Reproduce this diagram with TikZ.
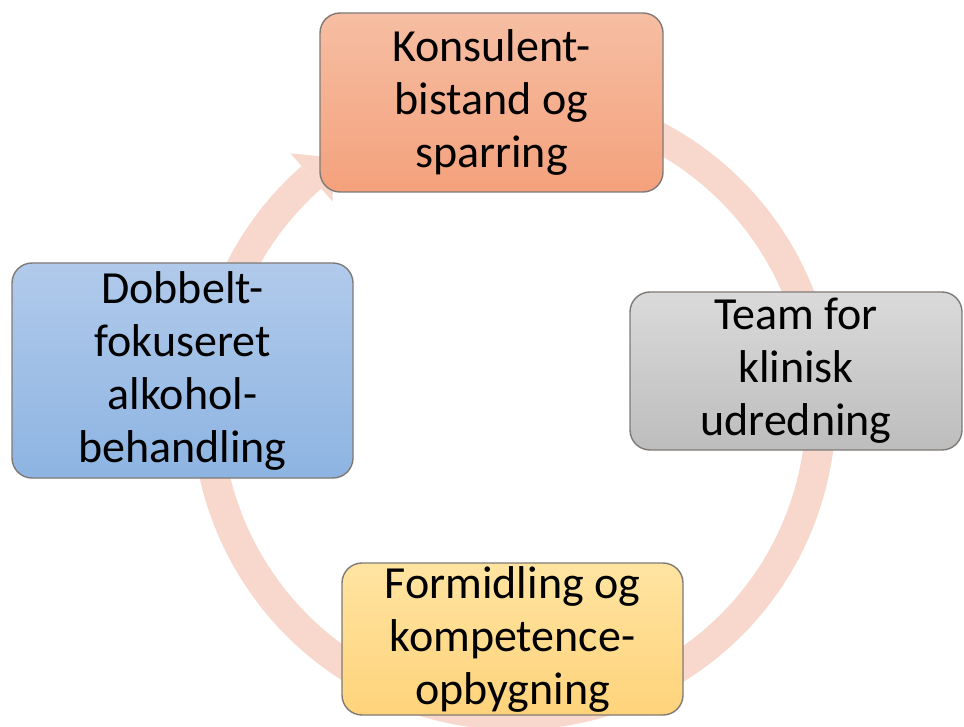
\documentclass[tikz,border=0pt]{standalone}
\usepackage{fontspec}
\setmainfont{Carlito}
\usetikzlibrary{calc}
\definecolor{arrowc}{HTML}{F8D8CC}
\definecolor{edgec}{HTML}{7F7A76}
\definecolor{orT}{HTML}{F6BEA3}
\definecolor{orB}{HTML}{F4A17C}
\definecolor{grT}{HTML}{DADADA}
\definecolor{grB}{HTML}{BDBDBD}
\definecolor{blT}{HTML}{B1CAEB}
\definecolor{blB}{HTML}{8DB4E2}
\definecolor{yeT}{HTML}{FFE4A1}
\definecolor{yeB}{HTML}{FFD37B}
\tikzset{
  box/.style={draw=edgec, line width=1.4pt, rounded corners=20pt, inner sep=0pt,
    align=center, font=\fontsize{46}{53}\selectfont},
  band/.style={line width=30pt, draw=arrowc}
}
\begin{document}
\begin{tikzpicture}[x=1pt, y=-1pt]
\useasboundingbox (0,0) rectangle (964,727);
\coordinate (c) at (514,408);
% circular arrow
\draw[band] (c) ++(-75:307) arc[start angle=-75, end angle=228.7, radius=307];
\fill[arrowc] ($(c)+(228.7:339)$) -- ($(c)+(228.7:307)+(-41.3:30)$) -- ($(c)+(228.7:275)$) -- cycle;
% boxes
\node[box, top color=orT, bottom color=orB, minimum width=343pt, minimum height=179pt]
  (konsulent) at (491.5,102.5) {Konsulent-\\bistand og\\sparring};
\node[box, top color=grT, bottom color=grB, minimum width=332pt, minimum height=158pt]
  (team) at (796,371) {Team for\\klinisk\\udredning};
\node[box, top color=yeT, bottom color=yeB, minimum width=341pt, minimum height=152pt]
  (formidling) at (512.5,639) {Formidling og\\kompetence-\\opbygning};
\node[box, top color=blT, bottom color=blB, minimum width=341pt, minimum height=215pt]
  (dobbelt) at (182.5,370.5) {Dobbelt-\\fokuseret\\alkohol-\\behandling};
\end{tikzpicture}
\end{document}
